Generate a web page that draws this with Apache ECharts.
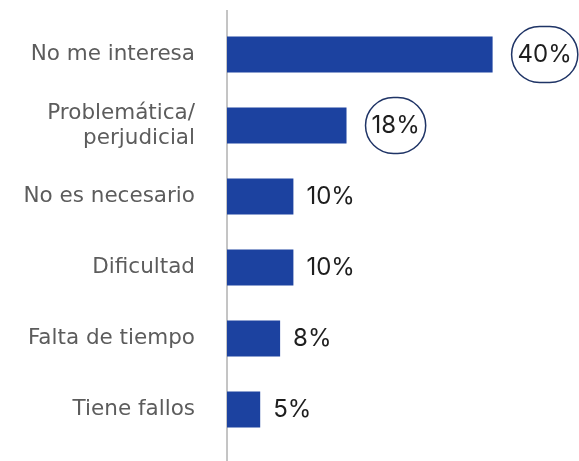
<!DOCTYPE html>
<html>
<head>
<meta charset="utf-8">
<script src="https://cdn.jsdelivr.net/npm/echarts@6/dist/echarts.min.js"></script>
<style>
  html, body { margin: 0; padding: 0; background: #fff; }
  #chart { width: 579px; height: 461px; }
</style>
</head>
<body>
<div id="chart"></div>
<script>
// categorías y porcentajes
const categories = ['No me interesa', 'Problemática/\nperjudicial', 'No es necesario', 'Dificultad', 'Falta de tiempo', 'Tiene fallos'];
const values = [40, 18, 10, 10, 8, 5];
// etiquetas con círculo
const circled = ['No me interesa', 'Problemática/\nperjudicial'];

const myChart = echarts.init(document.getElementById('chart'));

const seriesData = values.map((v, i) => {
  const item = { value: v };
  if (circled.indexOf(categories[i]) >= 0) {
    item.label = {
      distance: 19,
      padding: [17, 6, 15, 6],
      borderColor: '#1f3466',
      borderWidth: 1.5,
      borderRadius: 40,
    };
  }
  return item;
});

const option = {
  animation: false,
  grid: { left: 227, right: 20, top: 19, bottom: 16 },
  xAxis: {
    type: 'value',
    min: 0,
    max: 50,
    show: false,
  },
  yAxis: {
    type: 'category',
    inverse: true,
    data: categories,
    axisLine: { show: false },
    axisTick: { show: false },
    axisLabel: {
      margin: 32,
      color: '#5c5c5c',
      fontFamily: '"DejaVu Sans", sans-serif',
      fontSize: 21.5,
      lineHeight: 25,
      align: 'right',
    },
  },
  series: [
    {
      type: 'bar',
      data: seriesData,
      barWidth: 36,
      itemStyle: { color: '#1c42a0' },
      label: {
        show: true,
        position: 'right',
        distance: 13,
        formatter: '{c}%',
        color: '#1e1e1e',
        fontFamily: 'Inter, "Noto Sans", sans-serif',
        fontSize: 24,
      },
    },
  ],
};

myChart.setOption(option);

// línea vertical del eje, un poco más larga que la rejilla
const x0 = myChart.convertToPixel({ xAxisIndex: 0 }, 0);
myChart.setOption({
  graphic: [{
    type: 'line',
    shape: { x1: x0, y1: 10, x2: x0, y2: 461 },
    style: { stroke: '#8a8a8a', lineWidth: 1 },
    z: 0,
  }],
});
</script>
</body>
</html>
